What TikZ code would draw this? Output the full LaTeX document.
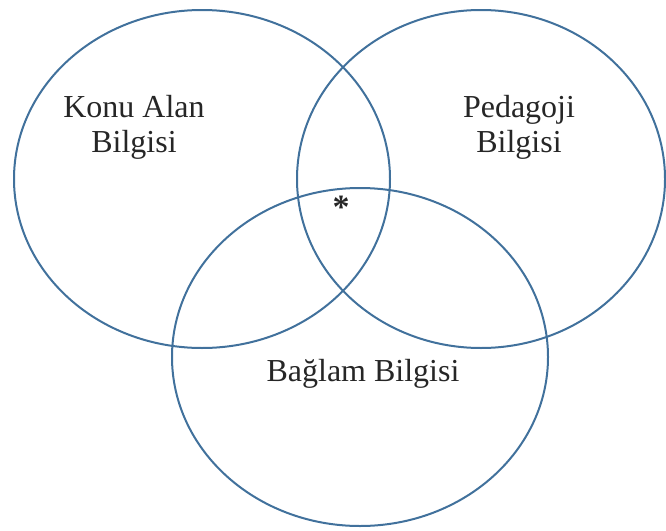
\documentclass[tikz,border=0pt]{standalone}
\usepackage{fontspec}
\setmainfont{Liberation Serif}
\definecolor{ringblue}{RGB}{65,113,156}
\begin{document}
\begin{tikzpicture}[x=1pt,y=-1pt,
  ring/.style={draw=ringblue,line width=2pt},
  lbl/.style={font=\fontsize{32}{35}\selectfont,align=center,inner sep=0pt,text=black!85}]
\useasboundingbox (0,0) rectangle (666,530);
\draw[ring] (202,179) ellipse [x radius=188,y radius=169];
\draw[ring] (481,179) ellipse [x radius=184,y radius=169];
\draw[ring] (360,357) ellipse [x radius=188,y radius=169];
\node[lbl,anchor=base] (konu) at (134,152) {Konu Alan\\Bilgisi};
\node[lbl,anchor=base] (ped) at (519,152) {Pedagoji\\Bilgisi};
\node[lbl,anchor=base] (bag) at (363,381) {Bağlam Bilgisi};
\node[lbl,anchor=center,font=\fontsize{34}{36}\selectfont\bfseries] (ast) at (341,207) {*};
\end{tikzpicture}
\end{document}
